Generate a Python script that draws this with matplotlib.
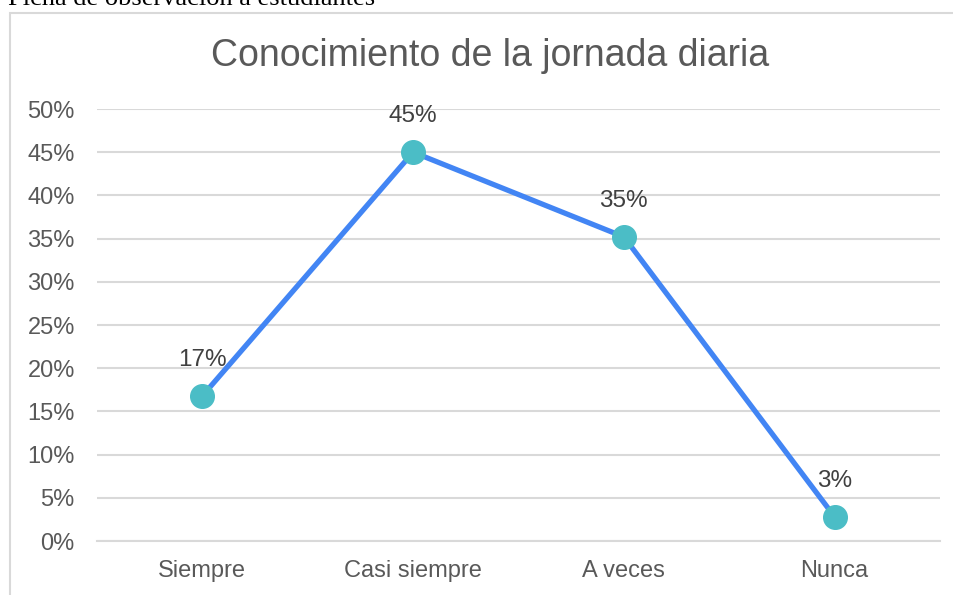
import matplotlib.pyplot as plt
from matplotlib.patches import Rectangle
from matplotlib.ticker import PercentFormatter

categories = ["Siempre", "Casi siempre", "A veces", "Nunca"]
values = [0.168, 0.45, 0.352, 0.028]
labels = ["17%", "45%", "35%", "3%"]
yticks = [0, 0.05, 0.10, 0.15, 0.20, 0.25, 0.30, 0.35, 0.40, 0.45, 0.50]

W, H = 954, 595
fig = plt.figure(figsize=(W / 100, H / 100), dpi=100)
plt.rcParams['font.family'] = ['Liberation Sans', 'DejaVu Sans']

# chart frame (top and left edges visible, rest cropped)
fig.patches.append(Rectangle((10.5 / W, -0.1), 1.2, 1 - 12.5 / H + 0.1,
                             transform=fig.transFigure, fill=False,
                             edgecolor='#d9d9d9', linewidth=1.5))
# caption cut by the crop
fig.text(8 / W, 1 + 1 / H, "Ficha de observación a estudiantes", family='Liberation Serif',
         fontsize=19, color='black', ha='left', va='center')

ax = fig.add_axes([97 / W, 1 - 541 / H, (940 - 97) / W, (541 - 109) / H])
x = list(range(len(categories)))
ax.plot(x, values, color='#4285f4', linewidth=3.8, zorder=3, solid_capstyle='round')
ax.plot(x, values, 'o', color='#4bbdc6', markersize=17, zorder=4)
for xi, v, t in zip(x, values, labels):
    ax.annotate(t, (xi, v), xytext=(0, 18), textcoords='offset points',
                ha='center', va='bottom', fontsize=17.5, color='#404040')

ax.set_xlim(-0.5, 3.5)
ax.set_ylim(0, 0.5)
ax.set_yticks(yticks)
ax.yaxis.set_major_formatter(PercentFormatter(1.0, decimals=0))
ax.set_xticks(x)
ax.set_xticklabels(categories)
ax.tick_params(axis='both', length=0, labelsize=17, labelcolor='#595959')
ax.tick_params(axis='y', pad=16)
ax.tick_params(axis='x', pad=14)
ax.grid(axis='y', color='#d9d9d9', linewidth=1.5)
ax.set_axisbelow(True)
for s in ax.spines.values():
    s.set_visible(False)
ax.spines['bottom'].set_visible(True)
ax.spines['bottom'].set_color('#d9d9d9')
ax.spines['bottom'].set_linewidth(1.5)

fig.text(490 / W, 1 - 56 / H, "Conocimiento de la jornada diaria", ha='center', va='center',
         fontsize=27, color='#595959')

fig.savefig("out.png", dpi=100)
